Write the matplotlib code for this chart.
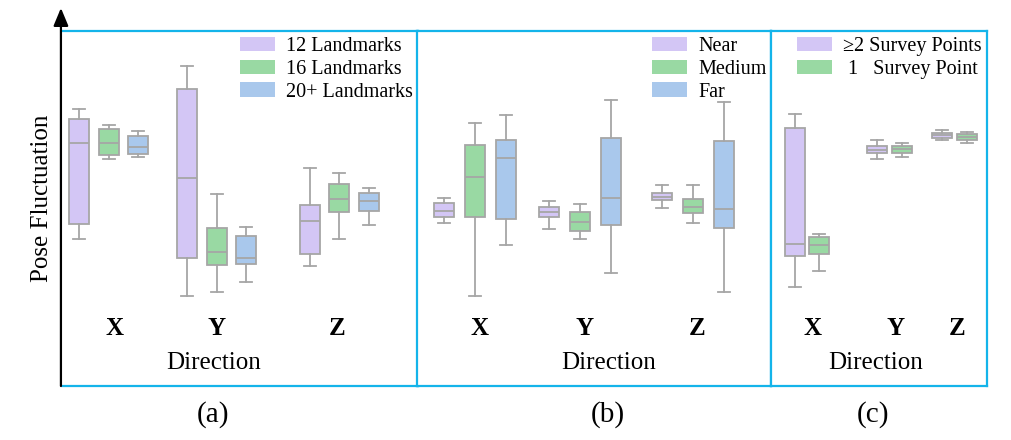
import matplotlib.pyplot as plt
from matplotlib.patches import Patch

plt.rcParams['font.family'] = ['Liberation Serif', 'DejaVu Serif']

directions = ['X', 'Y', 'Z']

# five-number summaries per direction (X, Y, Z): [whisker low, q1, median, q3, whisker high]
lm12 = [[4.13, 4.56, 6.85, 7.53, 7.79], [2.54, 3.60, 5.85, 8.37, 9.02], [3.39, 3.71, 4.66, 5.10, 6.13]]
lm16 = [[6.39, 6.51, 6.85, 7.23, 7.34], [2.65, 3.40, 3.78, 4.44, 5.41], [4.14, 4.89, 5.26, 5.68, 6.01]]
lm20 = [[6.46, 6.54, 6.72, 7.03, 7.17], [2.92, 3.43, 3.61, 4.22, 4.47], [4.53, 4.92, 5.22, 5.45, 5.58]]

near = [[4.58, 4.75, 4.93, 5.16, 5.30], [4.41, 4.75, 4.89, 5.05, 5.21], [5.01, 5.23, 5.33, 5.44, 5.66]]
medium = [[2.54, 4.75, 5.88, 6.78, 7.41], [4.15, 4.37, 4.62, 4.91, 5.12], [4.59, 4.86, 5.05, 5.26, 5.65]]
far = [[3.97, 4.70, 6.43, 6.92, 7.63], [3.17, 4.53, 5.30, 6.99, 8.06], [2.64, 4.46, 4.99, 6.91, 8.00]]

multi_pts = [[2.80, 3.67, 3.99, 7.28, 7.66], [6.39, 6.55, 6.66, 6.76, 6.94], [6.93, 6.99, 7.06, 7.14, 7.21]]
single_pt = [[3.23, 3.71, 3.97, 4.20, 4.29], [6.45, 6.56, 6.68, 6.77, 6.85], [6.85, 6.92, 7.01, 7.10, 7.16]]

labels_a = ['12 Landmarks', '16 Landmarks', '20+ Landmarks']
labels_b = ['Near', 'Medium', 'Far']
labels_c = ['\u22652 Survey Points', ' 1   Survey Point']
tags = ['(a)', '(b)', '(c)']

purple = '#d3c6f5'
green = '#99d9a3'
blue = '#a9c8ec'
edge = '#a6a6a6'
frame = '#14b4ea'

W, H = 1012, 440
fig = plt.figure(figsize=(W / 100, H / 100), dpi=100)


def draw_panel(left, width, series, colors, labels, centers, step, tick_x, dir_x, tag_x, leg_x):
    ax = fig.add_axes([left / W, (H - 386) / H, width / W, 355 / H])
    n = len(series)
    for i, (vals, c) in enumerate(zip(series, colors)):
        stats = [dict(whislo=v[0], q1=v[1], med=v[2], q3=v[3], whishi=v[4], fliers=[]) for v in vals]
        pos = [g + step * (i - (n - 1) / 2) for g in centers]
        line = dict(color=edge, linewidth=1.3)
        ax.bxp(stats, positions=pos, widths=20, capwidths=12, patch_artist=True,
               showfliers=False, manage_ticks=False,
               boxprops=dict(facecolor=c, edgecolor=edge, linewidth=1.3),
               medianprops=line, whiskerprops=line, capprops=line)
    ax.set_xlim(0, width)
    ax.set_ylim(0, 10)
    ax.set_xticks([])
    ax.set_yticks([])
    for s in ax.spines.values():
        s.set_color(frame)
        s.set_linewidth(1.6)
    for x, d in zip(tick_x, directions):
        ax.text(x, 0.163, d, transform=ax.get_xaxis_transform(), ha='center', va='center',
                fontsize=18, fontweight='bold')
    ax.text(dir_x, 0.066, 'Direction', transform=ax.get_xaxis_transform(), ha='center',
            va='center', fontsize=18)
    fig.text(tag_x / W, 1 - 415 / H, tags.pop(0), ha='center', va='center', fontsize=21)
    handles = [Patch(facecolor=c, edgecolor='none') for c in colors]
    ax.legend(handles, labels, loc='upper left', bbox_to_anchor=(leg_x / W, 1 - 37 / H),
              bbox_transform=fig.transFigure, frameon=False, fontsize=14.5,
              handlelength=1.75, handleheight=0.7, handletextpad=0.55,
              labelspacing=0.18, borderpad=0, borderaxespad=0)
    return ax


ax_a = draw_panel(62, 356, [lm12, lm16, lm20], [purple, green, blue], labels_a,
                  [46.7, 154.7, 277.3], 29.5, [53, 154.7, 275], 152, 213.3, 240)
ax_b = draw_panel(417, 354, [near, medium, far], [purple, green, blue], labels_b,
                  [58.2, 163.4, 276], 31, [63, 167.3, 279.7], 191.8, 608.3, 652)
ax_c = draw_panel(771, 216, [multi_pts, single_pt], [purple, green], labels_c,
                  [36, 118.2, 183.5], 24.8, [42, 124.7, 185.7], 104.5, 873.3, 797)

# black arrow instead of the left frame of panel (a)
ax_a.spines['left'].set_visible(False)
ax_a.annotate('', xy=(-0.003, (386 - 8) / 355), xytext=(-0.003, 0), xycoords='axes fraction',
              arrowprops=dict(arrowstyle='-|>,head_length=0.6,head_width=0.25', color='black',
                              lw=1.6, mutation_scale=18, shrinkA=0, shrinkB=0),
              annotation_clip=False)

fig.text(41.7 / W, 1 - 198 / H, 'Pose Fluctuation', rotation=90, ha='center', va='center',
         fontsize=18)

fig.savefig('out.png', dpi=100)
